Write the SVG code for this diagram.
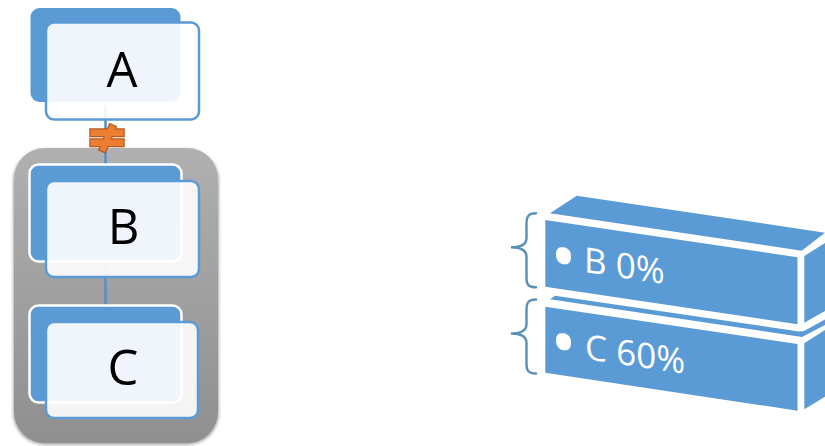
<svg xmlns="http://www.w3.org/2000/svg" width="825" height="446" viewBox="0 0 825 446">
<style>
.back{fill:#5b9bd5}
.backw{fill:#5b9bd5;stroke:#fff;stroke-width:2.500}
.front{fill:#fff;fill-opacity:.9;stroke:#5b9bd5;stroke-width:2.500}
.lbl{font-family:"Open Sans","Noto Sans",sans-serif;fill:#000;text-anchor:middle;font-size:49px}
.conn{stroke:#5590c5;stroke-width:2.500;fill:none}
.face{fill:#5b9bd5}
.brace{fill:none;stroke:#5a8fb8;stroke-width:2.400;stroke-linecap:round}
.t3{font-family:"Open Sans","Noto Sans",sans-serif;fill:#fff;font-size:35px}
.bul{fill:#fff;font-family:"Open Sans",sans-serif;font-size:72px}
.neq-o{fill:#b55a1e;stroke:#b55a1e;stroke-width:2.500}
.neq-i{fill:#ed7d31}
</style>
<defs>
<linearGradient id="g" x1="0" y1="0" x2="0" y2="1"><stop offset="0" stop-color="#b0b0b0"/><stop offset="1" stop-color="#8f8f8f"/></linearGradient>
<filter id="s" x="-10%" y="-10%" width="120%" height="120%"><feGaussianBlur stdDeviation="1.5"/></filter>
</defs>
<g id="group-bc">
<rect x="13" y="149" width="206" height="296" rx="32" fill="#777" opacity=".6" filter="url(#s)"/>
<rect x="14" y="148" width="204" height="295" rx="31" fill="url(#g)"/>
</g>
<g id="connectors">
<path class="conn" d="M105.500 105V164"/>
<path class="conn" d="M105.500 262V305"/>
</g>
<g id="node-a">
<rect class="back" x="30.500" y="8" width="150" height="94" rx="9"/>
<rect class="front" x="46" y="22.500" width="153" height="97" rx="8"/>
<text class="lbl" x="122" y="87">A</text>
</g>
<g id="node-b">
<rect class="backw" x="29.500" y="164.500" width="152" height="97" rx="9"/>
<rect class="front" x="46" y="181" width="153" height="96" rx="8"/>
<text class="lbl" x="123.500" y="244">B</text>
</g>
<g id="node-c">
<rect class="backw" x="29.500" y="305.500" width="152" height="97" rx="9"/>
<rect class="front" x="46" y="322" width="152" height="96" rx="8"/>
<text class="lbl" x="123" y="385">C</text>
</g>
<g id="not-equal">
<g class="neq-o">
<rect x="90.500" y="129.500" width="33" height="6.500"/>
<rect x="90.500" y="139.500" width="33" height="6.500"/>
<polygon points="110,124.500 115.500,127 105,152 99.500,149.500"/>
</g>
<g class="neq-i">
<rect x="90.500" y="129.500" width="33" height="6.500"/>
<rect x="90.500" y="139.500" width="33" height="6.500"/>
<polygon points="110,124.500 115.500,127 105,152 99.500,149.500"/>
</g>
</g>
<g id="block-b">
<polygon class="face" points="550,213.300 576.700,195.700 825,232.700 801.700,250.700"/>
<polygon class="face" points="545.300,220 797.500,257.300 797.500,324.300 545.300,286.700"/>
<polygon class="face" points="804.300,256 825,243 825,311 804.300,322.700"/>
<path class="brace" d="M536 213.300C528 213.300 526.500 217 526.500 224V238C526.500 244 522 247.300 511 247.300C522 247.300 526.500 251 526.500 257V278C526.500 284 528 287.300 536 287.300"/>
<text class="bul" transform="matrix(1,.148,0,1,550,280)">•</text>
<text class="t3" transform="matrix(1,.148,0,1,584,272)">B 0%</text>
</g>
<g id="block-c">
<polygon class="face" points="550,299.300 555,295.700 799,331.500 804,331 825,319.500 825,325 802,337"/>
<polygon class="face" points="545.300,306.700 797.500,344 797.500,410.700 545.300,372.700"/>
<polygon class="face" points="804.300,343.300 825,330 825,396.700 804.300,409.300"/>
<path class="brace" d="M536 299.500C528 299.500 526.500 303 526.500 310V324C526.500 330 522 333.500 511 333.500C522 333.500 526.500 337 526.500 343V364C526.500 370 528 373.500 536 373.500"/>
<text class="bul" transform="matrix(1,.148,0,1,550,366)">•</text>
<text class="t3" transform="matrix(1,.148,0,1,585,359)">C 60%</text>
</g>
</svg>
